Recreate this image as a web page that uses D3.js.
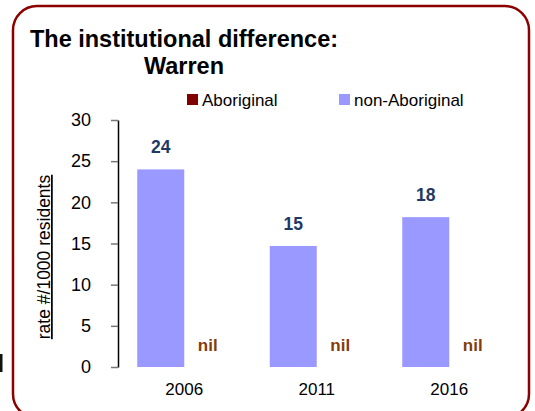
<!DOCTYPE html>
<html>
<head>
<meta charset="utf-8">
<script src="https://cdn.jsdelivr.net/npm/d3@7"></script>
<style>
  body { margin: 0; background: #fff; }
  svg { display: block; font-family: "Liberation Sans", Arial, sans-serif; }
</style>
</head>
<body>
<svg id="chart" width="535" height="411"></svg>
<script>
// data
var years = ['2006', '2011', '2016'];
var series = ['non-Aboriginal', 'Aboriginal'];
var nonAboriginal = [24.0, 14.7, 18.2];
var aboriginal = [0, 0, 0];
var yTicks = [0, 5, 10, 15, 20, 25, 30];

var colores = { 'Aboriginal': '#800000', 'non-Aboriginal': '#9999ff' };

var svg = d3.select('#chart');
var width = 535, height = 411;

// marco redondeado
svg.append('rect')
    .attr('x', 13).attr('y', 6)
    .attr('width', 516).attr('height', 412)
    .attr('rx', 24).attr('ry', 24)
    .attr('fill', 'none')
    .attr('stroke', '#8b0000')
    .attr('stroke-width', 2.5);

// trozo de letra que asoma por el borde izquierdo
svg.append('rect')
    .attr('x', 0).attr('y', 354)
    .attr('width', 2.5).attr('height', 18)
    .attr('fill', '#111');

// titulo
svg.append('text')
    .attr('x', 184).attr('y', 47)
    .attr('text-anchor', 'middle')
    .attr('font-size', '23.5px')
    .attr('font-weight', 'bold')
    .text('The institutional difference:');
svg.append('text')
    .attr('x', 184).attr('y', 74)
    .attr('text-anchor', 'middle')
    .attr('font-size', '23.5px')
    .attr('font-weight', 'bold')
    .text('Warren');

// escalas
var x0 = d3.scaleBand().domain(years).range([118, 515.5]).paddingInner(0).paddingOuter(0);
var x1 = d3.scaleBand().domain(series).range([x0.bandwidth() / 2 - 47, x0.bandwidth() / 2 + 47]);
var y = d3.scaleLinear().domain([0, 30]).range([367, 120]);

// eje y
var yAxis = svg.append('g')
    .attr('transform', 'translate(118,0)')
    .call(d3.axisLeft(y).tickValues(yTicks).tickSize(7).tickPadding(20).tickSizeOuter(0));
yAxis.select('.domain').attr('stroke', '#000').attr('stroke-width', 1.5);
yAxis.selectAll('.tick line').attr('stroke', '#777').attr('stroke-width', 1.5);
yAxis.selectAll('.tick text')
    .attr('font-size', '18px')
    .attr('font-family', '"Liberation Sans", Arial, sans-serif')
    .attr('fill', '#000');

// titulo eje y
svg.append('text')
    .attr('transform', 'translate(50,257) rotate(-90)')
    .attr('text-anchor', 'middle')
    .attr('font-size', '17.5px')
    .attr('text-decoration', 'underline')
    .text('rate #/1000 residents');

// eje x (solo etiquetas)
var xAxis = svg.append('g')
    .attr('transform', 'translate(0,367)')
    .call(d3.axisBottom(x0).tickSize(0).tickPadding(16));
xAxis.select('.domain').remove();
xAxis.selectAll('.tick text')
    .attr('font-size', '17px')
    .attr('font-family', '"Liberation Sans", Arial, sans-serif')
    .attr('fill', '#000');

// barras
var grupos = svg.selectAll('g.grupo')
    .data(years)
    .enter().append('g')
    .attr('class', 'grupo')
    .attr('transform', function (d) { return 'translate(' + x0(d) + ',0)'; });

grupos.append('rect')
    .attr('x', x1('non-Aboriginal'))
    .attr('width', x1.bandwidth())
    .attr('y', function (d, i) { return y(nonAboriginal[i]); })
    .attr('height', function (d, i) { return y(0) - y(nonAboriginal[i]); })
    .attr('fill', colores['non-Aboriginal']);

grupos.append('rect')
    .attr('x', x1('Aboriginal'))
    .attr('width', x1.bandwidth())
    .attr('y', function (d, i) { return y(aboriginal[i]); })
    .attr('height', function (d, i) { return y(0) - y(aboriginal[i]); })
    .attr('fill', colores['Aboriginal']);

// etiquetas de valor
grupos.append('text')
    .attr('x', x1('non-Aboriginal') + x1.bandwidth() / 2)
    .attr('y', function (d, i) { return y(nonAboriginal[i]) - 16; })
    .attr('text-anchor', 'middle')
    .attr('font-size', '17.5px')
    .attr('font-weight', 'bold')
    .attr('fill', '#1f3864')
    .text(function (d, i) { return d3.format('.0f')(nonAboriginal[i]); });

grupos.append('text')
    .attr('x', x1('Aboriginal') + x1.bandwidth() / 2)
    .attr('y', function (d, i) { return y(aboriginal[i]) - 16; })
    .attr('text-anchor', 'middle')
    .attr('font-size', '17px')
    .attr('font-weight', 'bold')
    .attr('fill', '#843c0c')
    .text(function (d, i) { return aboriginal[i] === 0 ? 'nil' : aboriginal[i]; });

// leyenda
var leyenda = [
    { nombre: 'Aboriginal', x: 187 },
    { nombre: 'non-Aboriginal', x: 339 }
];
var items = svg.selectAll('g.leyenda')
    .data(leyenda)
    .enter().append('g')
    .attr('class', 'leyenda')
    .attr('transform', function (d) { return 'translate(' + d.x + ',94)'; });
items.append('rect')
    .attr('width', 11).attr('height', 11)
    .attr('fill', function (d) { return colores[d.nombre]; });
items.append('text')
    .attr('x', 15).attr('y', 12)
    .attr('font-size', '17px')
    .text(function (d) { return d.nombre; });
</script>
</body>
</html>
